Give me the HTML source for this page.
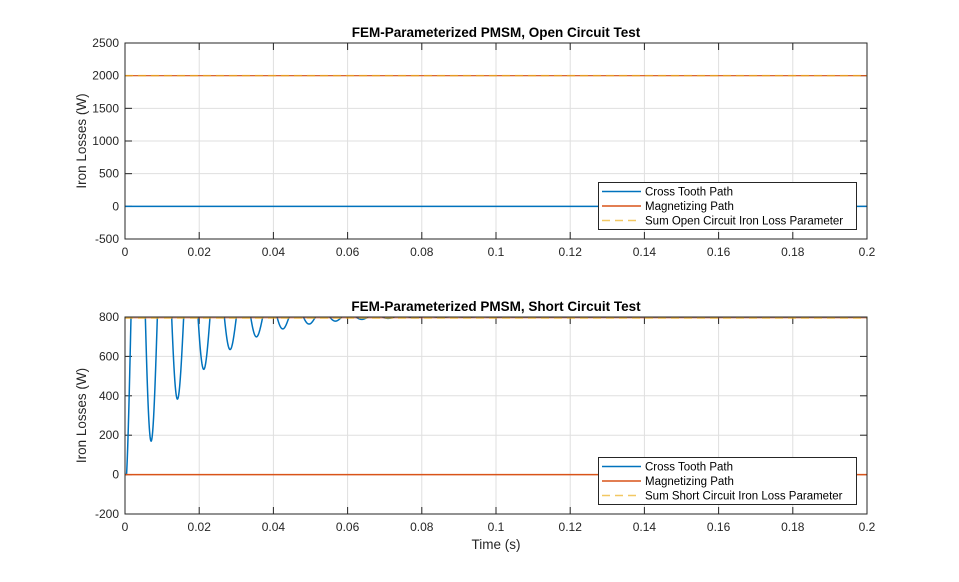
<!DOCTYPE html>
<html><head><meta charset="utf-8"><style>
body{margin:0;background:#fff;}
svg text{font-family:"Liberation Sans",Arial,sans-serif;}
</style></head><body>
<svg id="s" width="959" height="577" xmlns="http://www.w3.org/2000/svg">
<rect width="959" height="577" fill="#fff"/>
<defs>
<clipPath id="c1"><rect x="125" y="43" width="742" height="196"/></clipPath>
<clipPath id="c2"><rect x="125" y="317" width="742" height="197"/></clipPath>
</defs>
<g id="g"></g>
</svg>
<script>
var g=document.getElementById('g'),h='';
function X(t){return 125+t/0.2*742;}
function ax(y0,y1,vmin,vmax,step,title,ylab,clip){
  var Y=function(v){return y1-(v-vmin)/(vmax-vmin)*(y1-y0);};
  h+='<rect x="125" y="'+y0+'" width="742" height="'+(y1-y0)+'" fill="#fff"/>';
  for(var i=0;i<=10;i++){var x=X(i*0.02);h+='<line x1="'+x+'" x2="'+x+'" y1="'+y0+'" y2="'+y1+'" stroke="#dfdfdf"/>';
   h+='<line x1="'+x+'" x2="'+x+'" y1="'+y1+'" y2="'+(y1-7)+'" stroke="#262626"/><line x1="'+x+'" x2="'+x+'" y1="'+y0+'" y2="'+(y0+7)+'" stroke="#262626"/>';
   var lab=i==0?'0':i==10?'0.2':(i*0.02).toFixed(2).replace(/0$/,'');if(i==5)lab='0.1';
   h+='<text x="'+x+'" y="'+(y1+17)+'" font-size="12" text-anchor="middle" fill="#262626">'+lab+'</text>';}
  for(var v=vmin;v<=vmax;v+=step){var y=Y(v);h+='<line x1="125" x2="867" y1="'+y+'" y2="'+y+'" stroke="#dfdfdf"/>';
   h+='<line x1="125" x2="132" y1="'+y+'" y2="'+y+'" stroke="#262626"/><line x1="867" x2="860" y1="'+y+'" y2="'+y+'" stroke="#262626"/>';
   h+='<text x="119" y="'+(y+4)+'" font-size="12" text-anchor="end" fill="#262626">'+v+'</text>';}
  h+='<text x="496" y="'+(y0-6)+'" font-size="13.5" font-weight="bold" text-anchor="middle" fill="#000">'+title+'</text>';
  h+='<text transform="translate(86,'+((y0+y1)/2)+') rotate(-90)" font-size="13.5" text-anchor="middle" fill="#262626">Iron Losses (W)</text>';
  return Y;
}
var Y1=ax(43,239,-500,2500,500,'FEM-Parameterized PMSM, Open Circuit Test');
h+='<g clip-path="url(#c1)"><line x1="125" x2="867" y1="'+Y1(0)+'" y2="'+Y1(0)+'" stroke="#0072BD" stroke-width="1.5"/><line x1="125" x2="867" y1="'+Y1(2000)+'" y2="'+Y1(2000)+'" stroke="#D95319" stroke-width="1.2"/><line x1="125" x2="867" y1="'+Y1(2000)+'" y2="'+Y1(2000)+'" stroke="#EDB120" stroke-width="1.5" stroke-dasharray="8,5" opacity="0.7"/></g>';
h+='<rect x="125" y="43" width="742" height="196" fill="none" stroke="#262626"/>';
var Y2=ax(317,514,-200,800,200,'FEM-Parameterized PMSM, Short Circuit Test');
var p='';for(var i=0;i<=4000;i++){var t=i*0.00005;var e=Math.exp(-Math.pow(t/0.0182,1.16));var L=800+e*(140-1020*Math.cos(2*Math.PI*t/0.0071));if(t<0.002)L=Math.max(L,0);L=Math.max(-300,Math.min(L,900));p+=(i?'L':'M')+X(t).toFixed(2)+','+Y2(L).toFixed(2);}
h+='<g clip-path="url(#c2)"><path d="'+p+'" fill="none" stroke="#0072BD" stroke-width="1.5"/><line x1="125" x2="867" y1="'+Y2(0)+'" y2="'+Y2(0)+'" stroke="#D95319" stroke-width="1.5"/><line x1="125" x2="867" y1="'+(Y2(800)+1)+'" y2="'+(Y2(800)+1)+'" stroke="#D95319" stroke-width="1" opacity="0.6"/><line x1="125" x2="867" y1="'+(Y2(800)+1)+'" y2="'+(Y2(800)+1)+'" stroke="#EDB120" stroke-width="1.5" stroke-dasharray="8,5" opacity="0.7"/></g>';
h+='<rect x="125" y="317" width="742" height="197" fill="none" stroke="#262626"/>';
h+='<text x="496" y="549" font-size="13.5" text-anchor="middle" fill="#262626">Time (s)</text>';
function leg(y,lab){h+='<rect x="598.5" y="'+y+'" width="258" height="47" fill="#fff" stroke="#262626"/>';
 var items=[['#0072BD','Cross Tooth Path',''],['#D95319','Magnetizing Path',''],['#EDB120',lab,'8,5']];
 for(var k=0;k<3;k++){var yy=y+9+k*14.5;h+='<line x1="602" x2="641" y1="'+yy+'" y2="'+yy+'" stroke="'+items[k][0]+'" stroke-width="1.5" '+(items[k][2]?'stroke-dasharray="'+items[k][2]+'" opacity="0.7"':'')+'/>';
 h+='<text x="645" y="'+(yy+4)+'" font-size="11.5" fill="#000">'+items[k][1]+'</text>';}}
leg(182.5,'Sum Open Circuit Iron Loss Parameter');
leg(457.5,'Sum Short Circuit Iron Loss Parameter');
g.innerHTML=h;
</script>
</body></html>
